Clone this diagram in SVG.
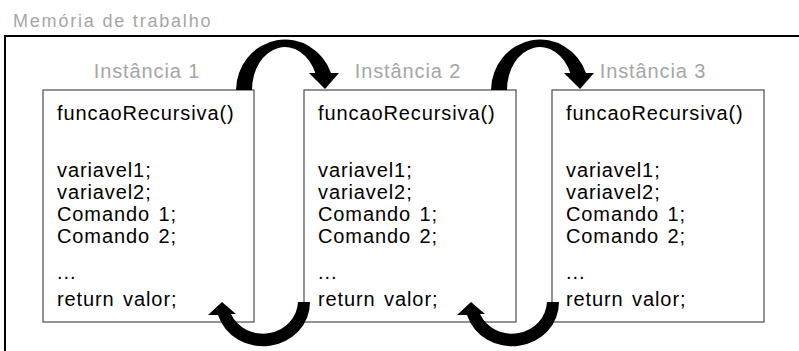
<svg xmlns="http://www.w3.org/2000/svg" width="799" height="351" viewBox="0 0 799 351">
<style>
.lbl{font-family:"Liberation Sans",Arial,sans-serif;fill:#a6a6a6;}
.code{font-family:"Liberation Sans",Arial,sans-serif;font-size:20px;fill:#000;letter-spacing:0.9px;word-spacing:2px;}
.box{fill:#fff;stroke:#595959;stroke-width:1.3;}
.arr{fill:#000;stroke:none;}
</style>
<rect width="799" height="351" fill="#fff"/>
<g id="frame">
<text class="lbl" x="13" y="27" font-size="18" letter-spacing="1.8">Memória de trabalho</text>
<path d="M5 351 V36 H799" fill="none" stroke="#000" stroke-width="2"/>
</g>
<g id="instancia1">
<text class="lbl" x="147" y="78" font-size="20" letter-spacing="0.9" text-anchor="middle">Instância 1</text>
<rect class="box" x="43" y="90" width="211" height="232"/>
<text class="code"><tspan x="57" y="120">funcaoRecursiva()</tspan><tspan x="57" y="177">variavel1;</tspan><tspan x="57" y="199">variavel2;</tspan><tspan x="57" y="221">Comando 1;</tspan><tspan x="57" y="243">Comando 2;</tspan><tspan x="57" y="279">...</tspan><tspan x="57" y="306">return valor;</tspan></text>
</g>
<g id="instancia2">
<text class="lbl" x="408" y="78" font-size="20" letter-spacing="0.9" text-anchor="middle">Instância 2</text>
<rect class="box" x="304" y="90" width="212" height="232"/>
<text class="code"><tspan x="318" y="120">funcaoRecursiva()</tspan><tspan x="318" y="177">variavel1;</tspan><tspan x="318" y="199">variavel2;</tspan><tspan x="318" y="221">Comando 1;</tspan><tspan x="318" y="243">Comando 2;</tspan><tspan x="318" y="279">...</tspan><tspan x="318" y="306">return valor;</tspan></text>
</g>
<g id="instancia3">
<text class="lbl" x="653" y="78" font-size="20" letter-spacing="0.9" text-anchor="middle">Instância 3</text>
<rect class="box" x="552" y="90" width="212" height="232"/>
<text class="code"><tspan x="566" y="120">funcaoRecursiva()</tspan><tspan x="566" y="177">variavel1;</tspan><tspan x="566" y="199">variavel2;</tspan><tspan x="566" y="221">Comando 1;</tspan><tspan x="566" y="243">Comando 2;</tspan><tspan x="566" y="279">...</tspan><tspan x="566" y="306">return valor;</tspan></text>
</g>
<g id="connectors">
<path class="arr" d="M236 90 A49 51 0 0 1 331 73 L339 73 L325 89 L309 73 L315.3 73 A33 43 0 0 0 252 90 Z"/>
<path class="arr" transform="translate(255 0)" d="M236 90 A49 51 0 0 1 331 73 L339 73 L325 89 L309 73 L315.3 73 A33 43 0 0 0 252 90 Z"/>
<path class="arr" d="M310 302 A47 44 0 0 1 218 315 L208 315 L222 302 L236 314 L231 314 A35 33 0 0 0 298 302 Z"/>
<path class="arr" transform="translate(249 0)" d="M310 302 A47 44 0 0 1 218 315 L208 315 L222 302 L236 314 L231 314 A35 33 0 0 0 298 302 Z"/>
</g>
</svg>
